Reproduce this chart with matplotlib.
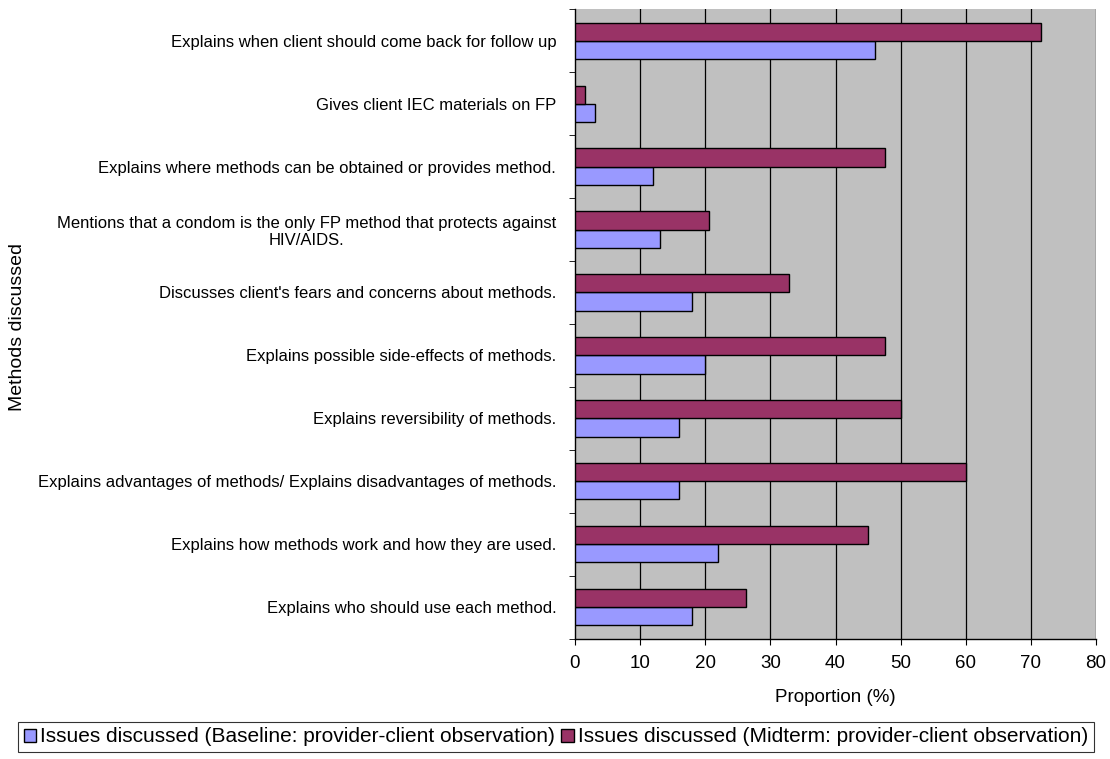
import matplotlib.pyplot as plt
import numpy as np

plt.rcParams['font.family'] = ['Liberation Sans', 'DejaVu Sans']

# categories listed bottom to top
categories = [
    "Explains who should use each method.",
    "Explains how methods work and how they are used.",
    "Explains advantages of methods/ Explains disadvantages of methods.",
    "Explains reversibility of methods.",
    "Explains possible side-effects of methods.",
    "Discusses client's fears and concerns about methods.",
    "Mentions that a condom is the only FP method that protects against\nHIV/AIDS.",
    "Explains where methods can be obtained or provides method.",
    "Gives client IEC materials on FP",
    "Explains when client should come back for follow up",
]
baseline = [18, 22, 16, 16, 20, 18, 13, 12, 3, 46]
midterm = [26.3, 45, 60, 50, 47.6, 32.8, 20.5, 47.6, 1.5, 71.6]

series_names = [
    "Issues discussed (Baseline: provider-client observation)",
    "Issues discussed (Midterm: provider-client observation)",
]
xticks = [0, 10, 20, 30, 40, 50, 60, 70, 80]

W, H = 1110, 759
fig = plt.figure(figsize=(W / 100, H / 100), dpi=100)
top, bottom = 9.4, 638.5
ax = fig.add_axes([575 / W, 1 - bottom / H, 521 / W, (bottom - top) / H])
ax.set_facecolor('#C0C0C0')

y = np.arange(len(categories))
h = 0.29
ax.barh(y - h / 2, baseline, height=h, color='#9999FF', edgecolor='black',
        linewidth=1, label=series_names[0], zorder=3)
ax.barh(y + h / 2, midterm, height=h, color='#993366', edgecolor='black',
        linewidth=1, label=series_names[1], zorder=3)

ax.set_xlim(0, 80)
ax.set_ylim(-0.5, len(categories) - 0.5)
ax.set_xticks(xticks)
ax.tick_params(axis='x', labelsize=13.5, length=4, direction='out', pad=8)
for v in xticks[1:]:
    ax.axvline(v, color='black', linewidth=0.9, zorder=1)

ax.set_yticks(y)
ax.set_yticklabels(categories, fontsize=12, multialignment='center')
ax.tick_params(axis='y', which='major', length=0, pad=13.5)
ax.set_yticks(np.arange(len(categories) + 1) - 0.5, minor=True)
ax.tick_params(axis='y', which='minor', length=4.5, direction='out')

for s in ['top', 'right']:
    ax.spines[s].set_visible(False)
ax.spines['left'].set_linewidth(1)
ax.spines['bottom'].set_linewidth(1)

ax.set_xlabel('Proportion (%)', fontsize=13.5, labelpad=12)
fig.text(18 / W, 1 - 327 / H, 'Methods discussed', rotation=90,
         ha='center', va='center', fontsize=14)

leg = fig.legend(loc='center', bbox_to_anchor=(556 / W, 1 - 737 / H),
                 ncol=2, fontsize=15, frameon=True, fancybox=False,
                 edgecolor='black', handlelength=0.6, handleheight=0.6,
                 handletextpad=0.2, columnspacing=0.3, borderpad=0.25,
                 borderaxespad=0)
leg.get_frame().set_linewidth(0.8)

fig.savefig('out.png', dpi=100)
